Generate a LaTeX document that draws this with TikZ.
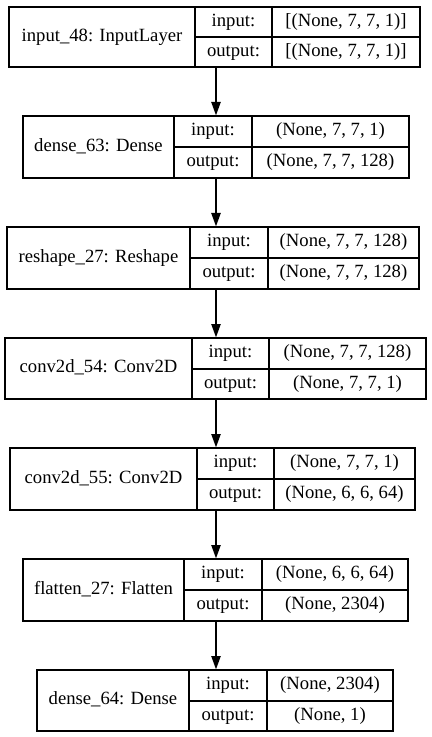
\documentclass[tikz,border=0pt]{standalone}
\usepackage{fontspec}
\setmainfont{Liberation Serif}
\usetikzlibrary{arrows.meta,fit}

\tikzset{
  record/.style={draw, inner sep=0pt, line width=1pt},
  cell/.style={inner sep=0pt, text height=9.5pt, text depth=3pt, font=\fontsize{14}{16}\selectfont},
  flow/.style={line width=1pt, -{Triangle[length=10pt,width=7pt]}}
}

\begin{document}
\begin{tikzpicture}[x=0.75pt,y=-0.75pt]
  \useasboundingbox (0,0) rectangle (431,737);

  % layers: name/label/left/div1/div2/right/top/mid/bottom/input/output
  \foreach \nm/\lbl/\l/\a/\b/\r/\t/\m/\bt/\vin/\vout in {
      input48/{input\_48: InputLayer}/9/195/272/420/7/37/67/{[(None, 7, 7, 1)]}/{[(None, 7, 7, 1)]},
      dense63/{dense\_63: Dense}/23/174/252/409/116/147/178/{(None, 7, 7, 1)}/{(None, 7, 7, 128)},
      reshape27/{reshape\_27: Reshape}/7/190/268/419/227/258/289/{(None, 7, 7, 128)}/{(None, 7, 7, 128)},
      conv2d54/{conv2d\_54: Conv2D}/5/192/269/426/338/369/399/{(None, 7, 7, 128)}/{(None, 7, 7, 1)},
      conv2d55/{conv2d\_55: Conv2D}/10/197/274/415/448/479/510/{(None, 7, 7, 1)}/{(None, 6, 6, 64)},
      flatten27/{flatten\_27: Flatten}/23/184/262/408/559/590/621/{(None, 6, 6, 64)}/{(None, 2304)},
      dense64/{dense\_64: Dense}/37/189/267/393/670/701/731/{(None, 2304)}/{(None, 1)}}{
    \node[record, fit={(\l,\t) (\r,\bt)}] (\nm) {};
    \draw[line width=1pt] (\a,\t) -- (\a,\bt) (\b,\t) -- (\b,\bt) (\a,\m) -- (\r,\m);
    \node[cell] (\nm-name) at ({(\l+\a)/2},{(\t+\bt)/2}) {\lbl};
    \node[cell] (\nm-ik) at ({(\a+\b)/2},{(\t+\m)/2}) {input:};
    \node[cell] (\nm-ok) at ({(\a+\b)/2},{(\m+\bt)/2}) {output:};
    \node[cell] (\nm-iv) at ({(\b+\r)/2},{(\t+\m)/2}) {\vin};
    \node[cell] (\nm-ov) at ({(\b+\r)/2},{(\m+\bt)/2}) {\vout};
  }

  % edges, all on one vertical
  \coordinate (axis) at (216,0);
  \foreach \src/\dst in {input48/dense63, dense63/reshape27, reshape27/conv2d54,
      conv2d54/conv2d55, conv2d55/flatten27, flatten27/dense64}
    \draw[flow] (axis |- \src.south) -- (axis |- \dst.north);
\end{tikzpicture}
\end{document}
